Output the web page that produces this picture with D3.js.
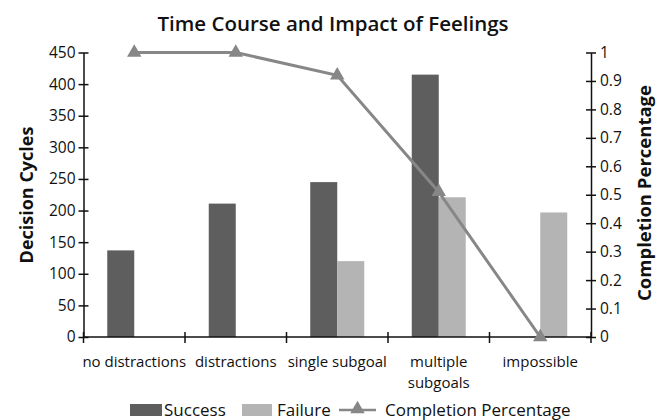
<!DOCTYPE html>
<html>
<head>
<meta charset="utf-8">
<script src="https://cdn.jsdelivr.net/npm/d3@7"></script>
<style>
  body { margin: 0; background: #fff; }
  svg text { font-family: "Open Sans", sans-serif; fill: #111; }
</style>
</head>
<body>
<div class="chart-svg"></div>
<script>
var categories = ["no distractions", "distractions", "single subgoal", "multiple subgoals", "impossible"];
var successValues = [137, 211, 245, 415, 0];
var failureValues = [0, 0, 120, 221, 197];
var completionValues = [1, 1, 0.92, 0.51, 0];
var leftTicks = [0, 50, 100, 150, 200, 250, 300, 350, 400, 450];
var rightTicks = [0, 0.1, 0.2, 0.3, 0.4, 0.5, 0.6, 0.7, 0.8, 0.9, 1];

var svgWidth = 665, svgHeight = 420;
var padding = {top: 52.5, right: 74, bottom: 83, left: 83.5};

var svg = d3.select(".chart-svg")
    .append("svg")
    .attr("width", svgWidth)
    .attr("height", svgHeight);

var xScale = d3.scaleBand()
    .domain(categories)
    .range([padding.left, svgWidth - padding.right]);

var seriesScale = d3.scaleBand()
    .domain(["success", "failure"])
    .range([xScale.bandwidth() / 2 - 27, xScale.bandwidth() / 2 + 27]);

var yScale = d3.scaleLinear()
    .domain([0, 450])
    .range([svgHeight - padding.bottom, padding.top]);

var y2Scale = d3.scaleLinear()
    .domain([0, 1])
    .range([svgHeight - padding.bottom, padding.top]);

var colors = {success: "#5e5e5e", failure: "#b4b4b4", line: "#878787"};

// bars
var bars = svg.append("g").attr("class", "bars");
categories.forEach(function(c, i){
    [["success", successValues[i]], ["failure", failureValues[i]]].forEach(function(s){
        if (s[1] <= 0) return;
        bars.append("rect")
            .attr("x", xScale(c) + seriesScale(s[0]))
            .attr("y", yScale(s[1]))
            .attr("width", seriesScale.bandwidth())
            .attr("height", yScale(0) - yScale(s[1]))
            .attr("fill", colors[s[0]]);
    });
});

// axes
function styleAxis(g){
    g.selectAll("path, line").attr("stroke", "#111").attr("stroke-width", 1.5);
    g.selectAll("text").attr("font-size", 15.5).attr("fill", "#111");
}

var yAxis = d3.axisLeft(yScale).tickValues(leftTicks).tickSize(5).tickSizeOuter(0).tickPadding(2);
svg.append("g")
    .attr("transform", "translate(" + padding.left + ",0)")
    .call(yAxis)
    .call(styleAxis)
    .call(function(g){
        g.selectAll(".tick line").attr("x1", 5).attr("x2", -5);
        g.selectAll(".tick text").attr("x", -8);
    });

var y2Axis = d3.axisRight(y2Scale).tickValues(rightTicks).tickSize(5).tickSizeOuter(0).tickPadding(2)
    .tickFormat(function(d){ return d3.format("~g")(d); });
svg.append("g")
    .attr("transform", "translate(" + (svgWidth - padding.right) + ",0)")
    .call(y2Axis)
    .call(styleAxis)
    .call(function(g){
        g.selectAll(".tick line").attr("x1", -5).attr("x2", 5);
        g.selectAll(".tick text").attr("x", 9);
    });

// x axis with ticks between categories
var xLine = svg.append("g").attr("class", "x-axis");
xLine.append("line")
    .attr("x1", padding.left).attr("x2", svgWidth - padding.right)
    .attr("y1", yScale(0)).attr("y2", yScale(0))
    .attr("stroke", "#111").attr("stroke-width", 1.5);
var boundaries = categories.map(function(c){ return xScale(c); }).concat([xScale(categories[4]) + xScale.bandwidth()]);
xLine.selectAll(".xtick")
    .data(boundaries)
    .enter()
    .append("line")
    .attr("x1", function(d){ return d; }).attr("x2", function(d){ return d; })
    .attr("y1", yScale(0) - 5).attr("y2", yScale(0) + 6)
    .attr("stroke", "#111").attr("stroke-width", 1.5);

var xLabels = xLine.selectAll(".xlabel")
    .data(categories)
    .enter()
    .append("text")
    .attr("text-anchor", "middle")
    .attr("font-size", 15)
    .attr("x", function(d){ return xScale(d) + xScale.bandwidth() / 2; })
    .attr("y", yScale(0) + 30);
xLabels.each(function(d){
    var lines = d == "multiple subgoals" ? ["multiple", "subgoals"] : [d];
    var t = d3.select(this);
    lines.forEach(function(l, k){
        t.append("tspan")
            .attr("x", xScale(d) + xScale.bandwidth() / 2)
            .attr("dy", k == 0 ? 0 : 21)
            .text(l);
    });
});

// completion line
var line = d3.line()
    .x(function(d, i){ return xScale(categories[i]) + xScale.bandwidth() / 2; })
    .y(function(d){ return y2Scale(d); });

svg.append("path")
    .datum(completionValues)
    .attr("d", line)
    .attr("fill", "none")
    .attr("stroke", colors.line)
    .attr("stroke-width", 3);

var tri = d3.symbol().type(d3.symbolTriangle).size(90);
svg.selectAll(".marker")
    .data(completionValues)
    .enter()
    .append("path")
    .attr("d", tri)
    .attr("fill", colors.line)
    .attr("transform", function(d, i){
        return "translate(" + (xScale(categories[i]) + xScale.bandwidth() / 2) + "," + y2Scale(d) + ")";
    });

// titles
svg.append("text")
    .attr("x", 333).attr("y", 31)
    .attr("text-anchor", "middle")
    .attr("font-size", 20.5)
    .attr("font-weight", 600)
    .text("Time Course and Impact of Feelings");

svg.append("text")
    .attr("transform", "translate(33,195) rotate(-90)")
    .attr("text-anchor", "middle")
    .attr("font-size", 18)
    .attr("font-weight", 700)
    .text("Decision Cycles");

svg.append("text")
    .attr("transform", "translate(651,193) rotate(-90)")
    .attr("text-anchor", "middle")
    .attr("font-size", 18.5)
    .attr("font-weight", 700)
    .text("Completion Percentage");

// legend
var legend = svg.append("g").attr("class", "legend");
legend.append("rect").attr("x", 130).attr("y", 404).attr("width", 32).attr("height", 12).attr("fill", colors.success);
legend.append("text").attr("x", 164).attr("y", 416).attr("font-size", 17).text("Success");
legend.append("rect").attr("x", 242).attr("y", 404).attr("width", 30).attr("height", 12).attr("fill", colors.failure);
legend.append("text").attr("x", 277).attr("y", 416).attr("font-size", 17).text("Failure");
legend.append("line").attr("x1", 339).attr("x2", 376).attr("y1", 410).attr("y2", 410)
    .attr("stroke", colors.line).attr("stroke-width", 2.5);
legend.append("path").attr("d", tri).attr("fill", colors.line)
    .attr("transform", "translate(357.5,409)");
legend.append("text").attr("x", 385).attr("y", 416).attr("font-size", 17).text("Completion Percentage");
</script>
</body>
</html>
